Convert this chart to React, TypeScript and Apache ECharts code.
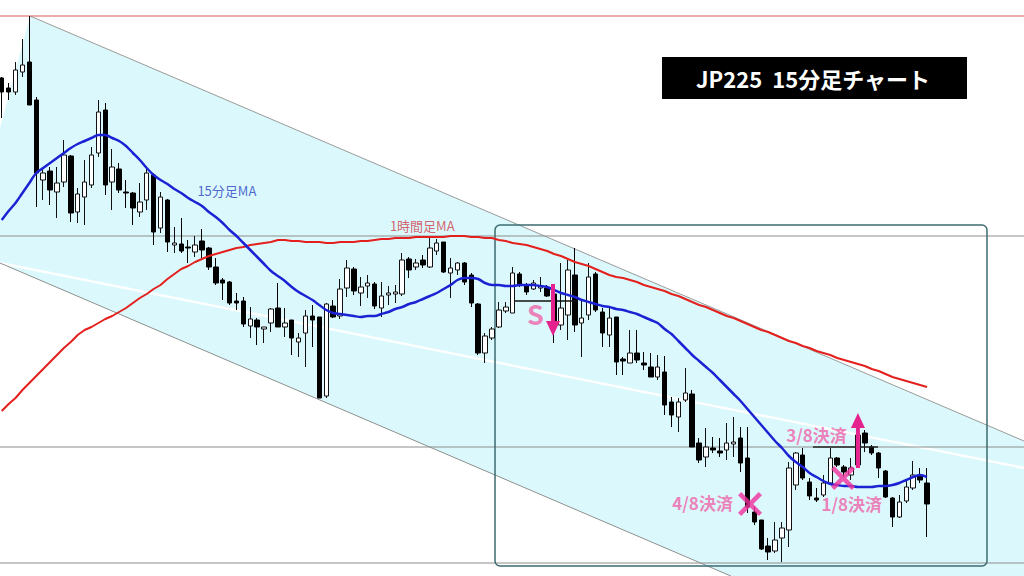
import React, { useEffect, useRef } from "react";
import * as echarts from "echarts";

// 15-minute candles: [open, close, low, high]
const ohlc: number[][] = [
  [522, 508, 482, 523], [512, 508, 500, 517], [508, 530, 505, 538], [528, 535, 523, 561], [538, 495, 495, 584],
  [500, 427, 393, 503], [420, 427, 400, 432], [429, 410, 395, 433], [408, 417, 382, 433], [418, 445, 413, 460],
  [444, 387, 378, 445], [388, 406, 377, 412], [403, 418, 375, 440], [415, 445, 412, 453], [447, 488, 443, 500],
  [490, 415, 405, 497], [418, 433, 390, 451], [431, 410, 407, 437], [408, 407, 392, 420], [407, 392, 375, 408],
  [388, 398, 383, 417], [400, 427, 390, 433], [425, 368, 355, 427], [372, 403, 367, 408], [400, 358, 348, 401],
  [355, 357, 347, 373], [356, 349, 347, 382], [353, 352, 337, 360], [348, 355, 343, 364], [359, 350, 342, 371],
  [352, 333, 330, 353], [333, 317, 315, 342], [320, 317, 300, 322], [318, 297, 295, 319], [299, 297, 290, 307],
  [299, 276, 273, 303], [274, 281, 262, 293], [280, 273, 255, 282], [271, 273, 257, 273], [277, 291, 268, 292],
  [292, 273, 273, 317], [273, 277, 263, 292], [280, 262, 245, 280], [258, 262, 243, 267], [267, 284, 233, 290],
  [284, 280, 253, 295], [283, 202, 202, 283], [204, 296, 202, 297], [294, 283, 282, 300], [284, 311, 281, 321],
  [312, 332, 303, 340], [331, 309, 305, 333], [307, 313, 294, 323], [314, 317, 302, 325], [316, 294, 291, 318],
  [292, 304, 283, 318], [305, 307, 295, 314], [306, 308, 297, 315], [306, 340, 304, 347], [341, 330, 322, 343],
  [333, 337, 330, 341], [340, 335, 332, 345], [333, 352, 332, 363], [349, 357, 345, 361], [358, 328, 327, 358],
  [327, 332, 302, 342], [330, 337, 325, 338], [337, 318, 315, 338], [325, 297, 293, 327], [296, 247, 245, 297],
  [247, 264, 237, 267], [262, 271, 260, 273], [273, 290, 272, 298], [289, 293, 287, 298], [287, 327, 287, 333],
  [326, 315, 313, 328], [315, 308, 305, 317], [311, 317, 310, 320], [312, 314, 308, 323], [312, 304, 303, 315],
  [306, 277, 257, 307], [275, 292, 270, 337], [285, 330, 260, 340], [325, 275, 268, 352], [277, 282, 243, 300],
  [285, 323, 280, 337], [326, 290, 288, 328], [288, 267, 253, 292], [265, 282, 253, 293], [283, 238, 225, 283],
  [241, 239, 225, 243], [237, 247, 237, 270], [247, 240, 237, 270], [237, 235, 230, 248], [233, 223, 223, 247],
  [223, 233, 220, 245], [228, 195, 185, 244], [198, 185, 173, 203], [183, 198, 168, 202], [200, 207, 198, 232],
  [206, 153, 153, 210], [157, 140, 137, 162], [143, 153, 133, 172], [152, 150, 147, 163], [149, 147, 143, 162],
  [150, 157, 140, 177], [156, 158, 143, 183], [162, 137, 128, 173], [142, 93, 87, 173], [88, 78, 75, 93],
  [80, 51, 50, 80], [54, 48, 40, 62], [49, 60, 47, 78], [62, 72, 38, 78], [70, 132, 53, 138],
  [115, 147, 110, 148], [145, 122, 120, 152], [118, 104, 100, 122], [102, 100, 98, 112], [105, 117, 103, 125],
  [117, 142, 115, 152], [142, 135, 133, 143], [133, 128, 123, 135], [125, 132, 120, 142], [135, 165, 132, 167],
  [167, 157, 148, 170], [153, 147, 145, 155], [147, 132, 122, 148], [129, 103, 102, 130], [102, 83, 73, 103],
  [83, 98, 82, 105], [99, 113, 97, 120], [112, 125, 110, 139], [125, 120, 117, 132], [117, 96, 63, 132],
];

// 15分足MA
const ma15: number[] = [
  380, 389, 397, 407, 417, 427, 432, 437, 442, 447, 452, 456, 459, 462, 465, 465, 462, 459, 454, 447,
  440, 432, 425, 420, 416, 411, 407, 402, 398, 394, 388, 383, 377, 370, 364, 357, 350, 343, 336, 329,
  324, 319, 313, 308, 304, 300, 295, 290, 287, 286, 285, 284, 283, 284, 284, 286, 288, 291, 293, 296,
  298, 301, 304, 307, 311, 315, 320, 322, 322, 321, 317, 315, 315, 314, 314, 315, 315, 315, 314, 313,
  310, 307, 305, 303, 300, 298, 296, 294, 293, 291, 290, 288, 286, 283, 280, 277, 271, 266, 259, 252,
  245, 239, 233, 227, 220, 213, 206, 199, 191, 183, 175, 167, 159, 152, 144, 138, 133, 127, 123, 119,
  116, 115, 114, 114, 113, 113, 113, 114, 114, 115, 117, 120, 123, 125, 123,
];

// 1時間足MA
const ma1h: number[] = [
  189, 196, 202, 210, 217, 224, 231, 238, 245, 252, 258, 265, 270, 273, 277, 281, 284, 288, 292, 297,
  302, 306, 311, 315, 321, 326, 331, 334, 338, 341, 344, 346, 348, 350, 352, 353, 355, 356, 357, 358,
  360, 360, 359, 359, 358, 358, 358, 357, 357, 358, 358, 358, 359, 359, 360, 361, 361, 362, 362, 362,
  363, 363, 363, 363, 363, 364, 364, 364, 363, 363, 362, 362, 360, 359, 357, 356, 355, 353, 351, 349,
  346, 344, 341, 338, 336, 334, 331, 328, 325, 323, 322, 320, 318, 315, 313, 311, 309, 306, 304, 301,
  298, 295, 293, 290, 287, 284, 282, 279, 276, 273, 270, 268, 265, 262, 259, 257, 254, 252, 249, 247,
  245, 242, 240, 238, 236, 234, 231, 229, 226, 223, 221, 219, 217, 215, 213,
];

// drawn objects, in (bar index, price)
const channelUpper = [[5.1, 584], [149.05, 159]];
const channelLower = [[0.75, 337], [106.6, 24]];
const channelMid = [[0.75, 337], [149.05, 132]];
const channelArea = [[0.75, 472], [5.1, 584], [149.05, 159], [149.05, 24], [106.6, 24], [0.75, 337]];
const redLevel = 584;
const grayLevels = [364, 153, 37];
const boxCorners = [[72.44, 375], [143.69, 34]];
const entryLine = [[75.33, 299], [84.31, 299]];
const exitLine = [[118.49, 153], [127.9, 153]];
// arrows: [bar index, start price, tip price]
const arrows: number[][] = [
  [80.84, 316, 264],
  [125.0, 132, 187],
];
const crosses = [[109.37, 96], [122.84, 122]];
const pinkLabels: [number, number, string][] = [
  [102.5, 98, "4/8決済"],
  [119.0, 166, "3/8決済"],
  [124.1, 97, "1/8決済"],
];
const sLabel: [number, number, string] = [78.3, 287, "S"];
const maLabels: [number, number, string, string][] = [
  [33.6, 410, "15分足MA", "#2a3fc2"],
  [61.9, 375, "1時間足MA", "#d23a4a"],
];

const X_MIN = 0.75;
const X_MAX = 149.05;
const Y_MIN = 24;
const Y_MAX = 600;

const JP = "'Noto Sans CJK JP', 'Noto Sans', sans-serif";
const PINK = "#f062aa";

function seg(points: number[][], color: string, width: number, z = 2) {
  return {
    type: "line",
    data: points,
    symbol: "none",
    silent: true,
    z,
    lineStyle: { color, width },
  };
}

function textSeries(items: [number, number, string][], color: string, size: number, weight: string) {
  return {
    type: "scatter",
    data: items.map((l) => ({ value: [l[0], l[1]], name: l[2] })),
    z: 11,
    silent: true,
    symbolSize: 0,
    label: {
      show: true,
      position: "inside",
      formatter: "{b}",
      color,
      fontSize: size,
      fontWeight: weight,
      fontFamily: JP,
    },
  };
}

export default function App() {
  const ref = useRef<HTMLDivElement>(null);
  useEffect(() => {
    const chart = echarts.init(ref.current!, null, { renderer: "svg" });
    const series: any[] = [
      {
        type: "custom",
        coordinateSystem: "cartesian2d",
        data: [[10, 300]],
        silent: true,
        z: 0,
        renderItem: (_p: any, api: any) => ({
          type: "polygon",
          shape: { points: channelArea.map((p) => api.coord(p)) },
          style: { fill: "#dbf9fc" },
        }),
      },
      seg(channelMid, "rgba(255,255,255,0.95)", 2.5, 1),
      seg(channelUpper, "#9a9a9a", 1, 2),
      seg(channelLower, "#8f8f8f", 1, 2),
      seg([[X_MIN, redLevel], [X_MAX, redLevel]], "#d85a5a", 1.2, 2),
      ...grayLevels.map((v) => seg([[X_MIN, v], [X_MAX, v]], "#8c8c8c", 1, 2)),
      {
        type: "custom",
        coordinateSystem: "cartesian2d",
        data: [[100, 200]],
        silent: true,
        z: 3,
        renderItem: (_p: any, api: any) => {
          const a = api.coord(boxCorners[0]);
          const b = api.coord(boxCorners[1]);
          return {
            type: "rect",
            shape: { x: a[0], y: a[1], width: b[0] - a[0], height: b[1] - a[1], r: 5 },
            style: { fill: "none", stroke: "#3d6b70", lineWidth: 1.5 },
          };
        },
      },
      {
        type: "candlestick",
        data: ohlc.map((c, i) => [i + 1, c[0], c[1], c[2], c[3]]),
        barWidth: 5,
        z: 5,
        silent: true,
        itemStyle: {
          color: "#ffffff",
          color0: "#000000",
          borderColor: "#111111",
          borderColor0: "#000000",
          borderWidth: 1,
        },
      },
      {
        type: "line",
        data: ma1h.map((v, i) => [i + 1, v]),
        symbol: "none",
        silent: true,
        z: 6,
        lineStyle: { color: "#e3201d", width: 2 },
      },
      {
        type: "line",
        data: ma15.map((v, i) => [i + 1, v]),
        symbol: "none",
        silent: true,
        z: 7,
        smooth: 0.3,
        lineStyle: { color: "#1b22d4", width: 2.5 },
      },
      seg(entryLine, "#111111", 1.5, 8),
      seg(exitLine, "#222222", 1.5, 8),
      {
        type: "custom",
        coordinateSystem: "cartesian2d",
        data: arrows,
        silent: true,
        z: 9,
        renderItem: (_p: any, api: any) => {
          const x = api.value(0);
          const s = api.coord([x, api.value(1)]);
          const t = api.coord([x, api.value(2)]);
          const dir = t[1] > s[1] ? 1 : -1;
          const headLen = 15;
          const halfW = 7;
          const baseY = t[1] - dir * headLen;
          return {
            type: "group",
            children: [
              {
                type: "line",
                shape: { x1: s[0], y1: s[1], x2: t[0], y2: baseY },
                style: { stroke: "#e5238e", lineWidth: 4 },
              },
              {
                type: "polygon",
                shape: {
                  points: [
                    [t[0], t[1]],
                    [t[0] - halfW, baseY],
                    [t[0] + halfW, baseY],
                  ],
                },
                style: { fill: "#e5238e" },
              },
            ],
          };
        },
      },
      {
        type: "scatter",
        data: crosses,
        z: 10,
        silent: true,
        symbol:
          "path://M3,0L11,8L19,0L22,3L14,11L22,19L19,22L11,14L3,22L0,19L8,11L0,3Z",
        symbolSize: 24,
        itemStyle: { color: "#f0309c" },
      },
      textSeries(pinkLabels, PINK, 17, "bold"),
      textSeries([sLabel], PINK, 27, "bold"),
      ...maLabels.map((l) => textSeries([[l[0], l[1], l[2]]], l[3], 13, "normal")),
    ];
    chart.setOption({
      animation: false,
      backgroundColor: "#ffffff",
      grid: { left: 0, right: 0, top: 0, bottom: 0 },
      xAxis: { type: "value", min: X_MIN, max: X_MAX, show: false },
      yAxis: { type: "value", min: Y_MIN, max: Y_MAX, show: false },
      graphic: [
        {
          type: "rect",
          shape: { x: 662, y: 57, width: 305, height: 42 },
          style: { fill: "#000000" },
          z: 100,
        },
        {
          type: "text",
          x: 813,
          y: 78,
          z: 101,
          style: {
            text: "JP225  15分足チャート",
            fill: "#ffffff",
            font: "bold 22px 'Noto Sans CJK JP', sans-serif",
            align: "center",
            verticalAlign: "middle",
          },
        },
      ],
      series,
    });
    return () => chart.dispose();
  }, []);
  return (
    <div
      ref={ref}
      style={{ position: "fixed", left: 0, top: 0, width: 1024, height: 576, background: "#fff" }}
    />
  );
}
